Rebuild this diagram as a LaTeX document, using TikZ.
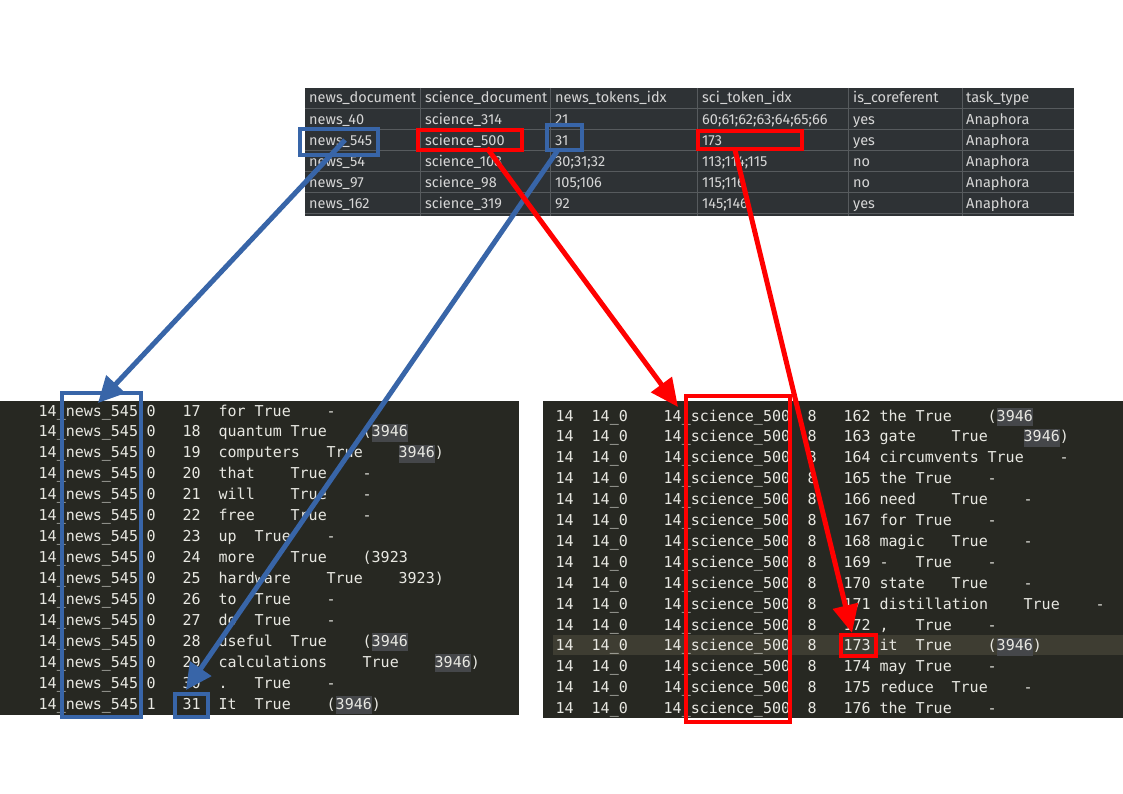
\documentclass[tikz,border=0pt]{standalone}
\usepackage{fontspec}
\setmonofont{DejaVu Sans Mono}
\newfontfamily\tabfont{Fira Sans}
\usetikzlibrary{arrows.meta}
\definecolor{panelbg}{HTML}{272822}
\definecolor{paneltx}{HTML}{E8E8E2}
\definecolor{hl}{HTML}{45474A}
\definecolor{rowhl}{HTML}{3E3D32}
\definecolor{tabbg}{HTML}{2E3235}
\definecolor{tabgrid}{HTML}{575B5E}
\definecolor{tabtx}{HTML}{D6D6D6}
\definecolor{mblue}{HTML}{3865A8}
\definecolor{mred}{HTML}{FF0000}
\newlength\cw \setlength\cw{9pt}
\newcommand\F[2]{\makebox[0pt][l]{\hspace*{#1\cw}#2}}
\newcommand\HL[1]{{\setlength{\fboxsep}{0pt}\colorbox{hl}{\rule[-5pt]{0pt}{18pt}#1}}}
\tikzset{
 mono/.style={font=\ttfamily\fontsize{15}{15}\selectfont, text=paneltx, inner sep=0pt, anchor=base west},
 tabtext/.style={font=\tabfont\fontsize{14.5}{15}\selectfont, text=tabtx, inner sep=0pt, anchor=base west},
 mark box/.style={line width=3.5pt, inner sep=0pt, fill=none},
 bluebox/.style={mark box, draw=mblue},
 redbox/.style={mark box, draw=mred},
 bluearrow/.style={draw=mblue, line width=5pt, -{Triangle[length=26pt,width=25pt]}},
 redarrow/.style={draw=mred, line width=5pt, -{Triangle[length=28pt,width=25pt]}},
}
\begin{document}
\begin{tikzpicture}[x=1pt,y=-1pt]
\fill[white] (0,0) rectangle (1123,794);
\useasboundingbox (0,0) rectangle (1123,794);
% ---------- top table ----------
\fill[tabbg] (305,88) rectangle (1074,216);
\foreach \yy in {108.5,129.5,150.5,171.5,192.5,213.5}
  \draw[tabgrid, line width=1pt] (305,\yy) -- (1074,\yy);
\foreach \xx in {420.5,550.5,697.5,848.5,962.5}
  \draw[tabgrid, line width=1pt] (\xx,88) -- (\xx,216);
\foreach \a/\b/\c/\d/\e/\f [count=\k from 0] in {
 news\_document/science\_document/news\_tokens\_idx/sci\_token\_idx/is\_coreferent/task\_type,
 news\_40/science\_314/21/{60;61;62;63;64;65;66}/yes/Anaphora,
 news\_545/science\_500/31/173/yes/Anaphora,
 news\_54/science\_108/{30;31;32}/{113;114;115}/no/Anaphora,
 news\_97/science\_98/{105;106}/{115;116}/no/Anaphora,
 news\_162/science\_319/92/{145;146}/yes/Anaphora}
{
 \node[tabtext] (c\k-a) at (309,{103+21.2*\k}) {\a};
 \node[tabtext] (c\k-b) at (425,{103+21.2*\k}) {\b};
 \node[tabtext] (c\k-c) at (555,{103+21.2*\k}) {\c};
 \node[tabtext] (c\k-d) at (702,{103+21.2*\k}) {\d};
 \node[tabtext] (c\k-e) at (853,{103+21.2*\k}) {\e};
 \node[tabtext] (c\k-f) at (966,{103+21.2*\k}) {\f};
}
% ---------- left panel ----------
\fill[panelbg] (0,401) rectangle (519,715);
\foreach \w/\tc/\tail/\tailcol [count=\idx from 0] in {
 for/24/-/32,
 quantum/28/{(\HL{3946}}/36,
 computers/32/{\HL{3946})}/40,
 that/28/-/36,
 will/28/-/36,
 free/28/-/36,
 up/24/-/32,
 more/28/{(3923}/36,
 hardware/32/{3923)}/40,
 to/24/-/32,
 do/24/-/32,
 useful/28/{(\HL{3946}}/36,
 calculations/36/{\HL{3946})}/44,
 ./24/-/32,
 It/24/{(\HL{3946})}/32}
{
 \pgfmathtruncatemacro\num{17+\idx}
 \node[mono] (L\idx) at (38,{416+20.95*\idx})
  {\F{0}{14\_news\_545}\F{12}{\ifnum\idx=14 1\else 0\fi}\F{16}{\num}\F{20}{\w}\F{\tc}{True}\F{\tailcol}{\tail}};
}
% ---------- right panel ----------
\fill[panelbg] (543,401) rectangle (1123,718);
\fill[rowhl] (553,635) rectangle (1123,655);
\foreach \w/\tc/\tail/\tailcol [count=\idx from 0] in {
 the/40/{(\HL{3946}}/48,
 gate/44/{\HL{3946})}/52,
 circumvents/48/-/56,
 the/40/-/48,
 need/44/-/52,
 for/40/-/48,
 magic/44/-/52,
 -/40/-/48,
 state/44/-/52,
 distillation/52/-/60,
 {,}/40/-/48,
 it/40/{(\HL{3946})}/48,
 may/40/-/48,
 reduce/44/-/52,
 the/40/-/48}
{
 \pgfmathtruncatemacro\num{162+\idx}
 \node[mono] (R\idx) at (555,{421+20.9*\idx})
  {\F{0}{14}\F{4}{14\_0}\F{12}{14\_science\_500}\F{28}{8}\F{32}{\num}\F{36}{\w}\F{\tc}{True}\F{\tailcol}{\tail}};
}
% ---------- marking boxes ----------
\node[bluebox, minimum width=78pt, minimum height=26pt] (bNews) at (339,142) {};
\node[bluebox, minimum width=35pt, minimum height=25pt] (bTok) at (564.5,137.5) {};
\node[redbox, minimum width=104pt, minimum height=20pt] (rSci) at (470,140) {};
\node[redbox, minimum width=104pt, minimum height=18pt] (rTok) at (750,140) {};
\node[bluebox, minimum width=79pt, minimum height=324pt] (bCol) at (101.5,555) {};
\node[bluebox, minimum width=33pt, minimum height=23pt] (bThirtyOne) at (191.5,705.5) {};
\node[redbox, minimum width=104pt, minimum height=326pt] (rCol) at (738,559) {};
\node[redbox, minimum width=35pt, minimum height=21pt] (rOneSeventyThree) at (858.5,645.5) {};
% ---------- arrows ----------
\coordinate (a1s) at (345,140);
\coordinate (a1e) at (98,403);
\coordinate (a2s) at (558,150);
\coordinate (a2e) at (186,690);
\coordinate (a3s) at (487,148);
\coordinate (a3e) at (678,407);
\coordinate (a4s) at (735,150);
\coordinate (a4e) at (852,633);
\draw[bluearrow] (a1s) -- (a1e);
\draw[bluearrow] (a2s) -- (a2e);
\draw[redarrow] (a3s) -- (a3e);
\draw[redarrow] (a4s) -- (a4e);
\end{tikzpicture}
\end{document}
